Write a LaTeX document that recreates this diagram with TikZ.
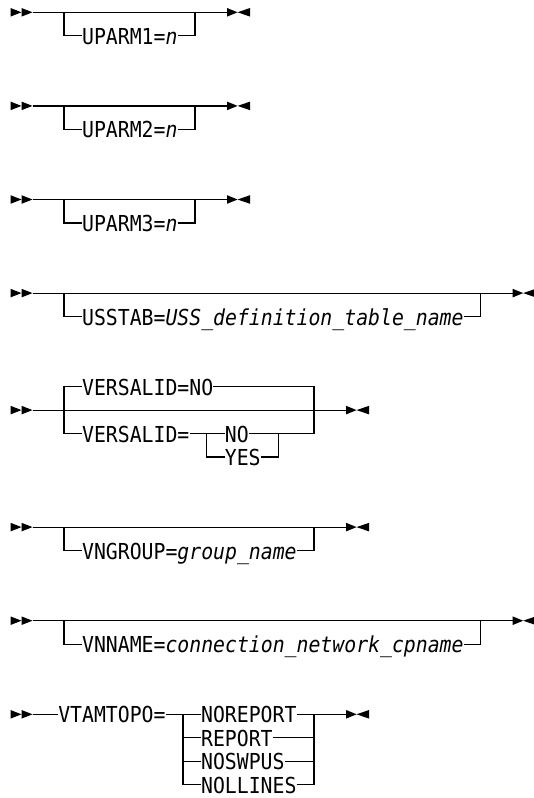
\documentclass[tikz,border=0pt]{standalone}
\usepackage{fontspec}
\setmonofont[FakeStretch=0.9,ItalicFont={DejaVu Sans Mono Oblique}]{DejaVu Sans Mono}
\usetikzlibrary{positioning}
\tikzset{
  kw/.style={
    font=\ttfamily\fontsize{22}{22}\selectfont, inner sep=0pt,
    text height=17pt, text depth=0pt, anchor=west
  },
  rail/.style={line width=1.2pt},
  railstart/.pic={
    \fill (0pt,4.3pt) -- (11pt,0pt) -- (0pt,-4.3pt) -- cycle;
    \fill (11pt,4.3pt) -- (22pt,0pt) -- (11pt,-4.3pt) -- cycle;
  },
  railend/.pic={
    \fill (0pt,4.3pt) -- (10.5pt,0pt) -- (0pt,-4.3pt) -- cycle;
    \fill (23pt,4.3pt) -- (10.5pt,0pt) -- (23pt,-4.3pt) -- cycle;
  }
}
\begin{document}
\begin{tikzpicture}[x=11.9pt, y=-23.4pt]
\useasboundingbox (-10.5pt,12.3pt) rectangle (523.5pt,-785.7pt);

% UPARM1..UPARM3
\foreach \k/\r in {1/0, 2/4, 3/8} {
  \pic at (0,\r) {railstart};
  \coordinate (us\k) at (1.85,\r);
  \coordinate (ue\k) at (18.2,\r);
  \coordinate (ul\k) at (4.5,\r);
  \coordinate (ur\k) at (15.5,\r);
  \pic at (ue\k) {railend};
  \node[kw] (up\k) at (6,{\r+1}) {UPARM\k=\textit{n}};
  \draw[rail] (us\k) -- (ue\k);
  \draw[rail] (ul\k) |- (up\k.west);
  \draw[rail] (up\k.east) -| (ur\k);
}

% USSTAB
\pic at (0,12) {railstart};
\coordinate (ss) at (1.85,12);
\coordinate (se) at (42.2,12);
\coordinate (sl) at (4.5,12);
\coordinate (sr) at (39.5,12);
\pic at (se) {railend};
\node[kw] (usstab) at (6,13) {USSTAB=\textit{USS\_definition\_table\_name}};
\draw[rail] (ss) -- (se);
\draw[rail] (sl) |- (usstab.west);
\draw[rail] (usstab.east) -| (sr);

% VERSALID
\pic at (0,17) {railstart};
\coordinate (vs) at (1.85,17);
\coordinate (ve) at (28.2,17);
\coordinate (vl) at (4.5,17);
\coordinate (vr) at (25.5,17);
\coordinate (vil) at (16.5,18);
\coordinate (vir) at (22.5,18);
\pic at (ve) {railend};
\node[kw] (vdef) at (6,16) {VERSALID=NO};
\node[kw] (vset) at (6,18) {VERSALID=};
\node[kw] (vno) at (18,18) {NO};
\node[kw] (vyes) at (18,19) {YES};
\draw[rail] (vs) -- (ve);
\draw[rail] (vl) |- (vdef.west);
\draw[rail] (vl) |- (vset.west);
\draw[rail] (vdef.east) -| (vr);
\draw[rail] (vir) -| (vr);
\draw[rail] (vset.east) -- (vil) -- (vno.west);
\draw[rail] (vil) |- (vyes.west);
\draw[rail] (vno.east) -- (vir);
\draw[rail] (vyes.east) -| (vir);

% VNGROUP
\pic at (0,22) {railstart};
\coordinate (gs) at (1.85,22);
\coordinate (ge) at (28.2,22);
\coordinate (gl) at (4.5,22);
\coordinate (gr) at (25.5,22);
\pic at (ge) {railend};
\node[kw] (vng) at (6,23) {VNGROUP=\textit{group\_name}};
\draw[rail] (gs) -- (ge);
\draw[rail] (gl) |- (vng.west);
\draw[rail] (vng.east) -| (gr);

% VNNAME
\pic at (0,26) {railstart};
\coordinate (ns) at (1.85,26);
\coordinate (ne) at (42.2,26);
\coordinate (nl) at (4.5,26);
\coordinate (nr) at (39.5,26);
\pic at (ne) {railend};
\node[kw] (vnn) at (6,27) {VNNAME=\textit{connection\_network\_cpname}};
\draw[rail] (ns) -- (ne);
\draw[rail] (nl) |- (vnn.west);
\draw[rail] (vnn.east) -| (nr);

% VTAMTOPO
\pic at (0,30) {railstart};
\coordinate (ts) at (1.85,30);
\coordinate (te) at (28.2,30);
\coordinate (tl) at (14.5,30);
\coordinate (tr) at (25.5,30);
\pic at (te) {railend};
\node[kw] (vt) at (4,30) {VTAMTOPO=};
\node[kw] (t1) at (16,30) {NOREPORT};
\node[kw] (t2) at (16,31) {REPORT};
\node[kw] (t3) at (16,32) {NOSWPUS};
\node[kw] (t4) at (16,33) {NOLLINES};
\draw[rail] (ts) -- (vt.west);
\draw[rail] (vt.east) -- (t1.west);
\draw[rail] (t1.east) -- (te);
\draw[rail] (tl) |- (t2.west);
\draw[rail] (tl) |- (t3.west);
\draw[rail] (tl) |- (t4.west);
\draw[rail] (t2.east) -| (tr);
\draw[rail] (t3.east) -| (tr);
\draw[rail] (t4.east) -| (tr);
\end{tikzpicture}
\end{document}
